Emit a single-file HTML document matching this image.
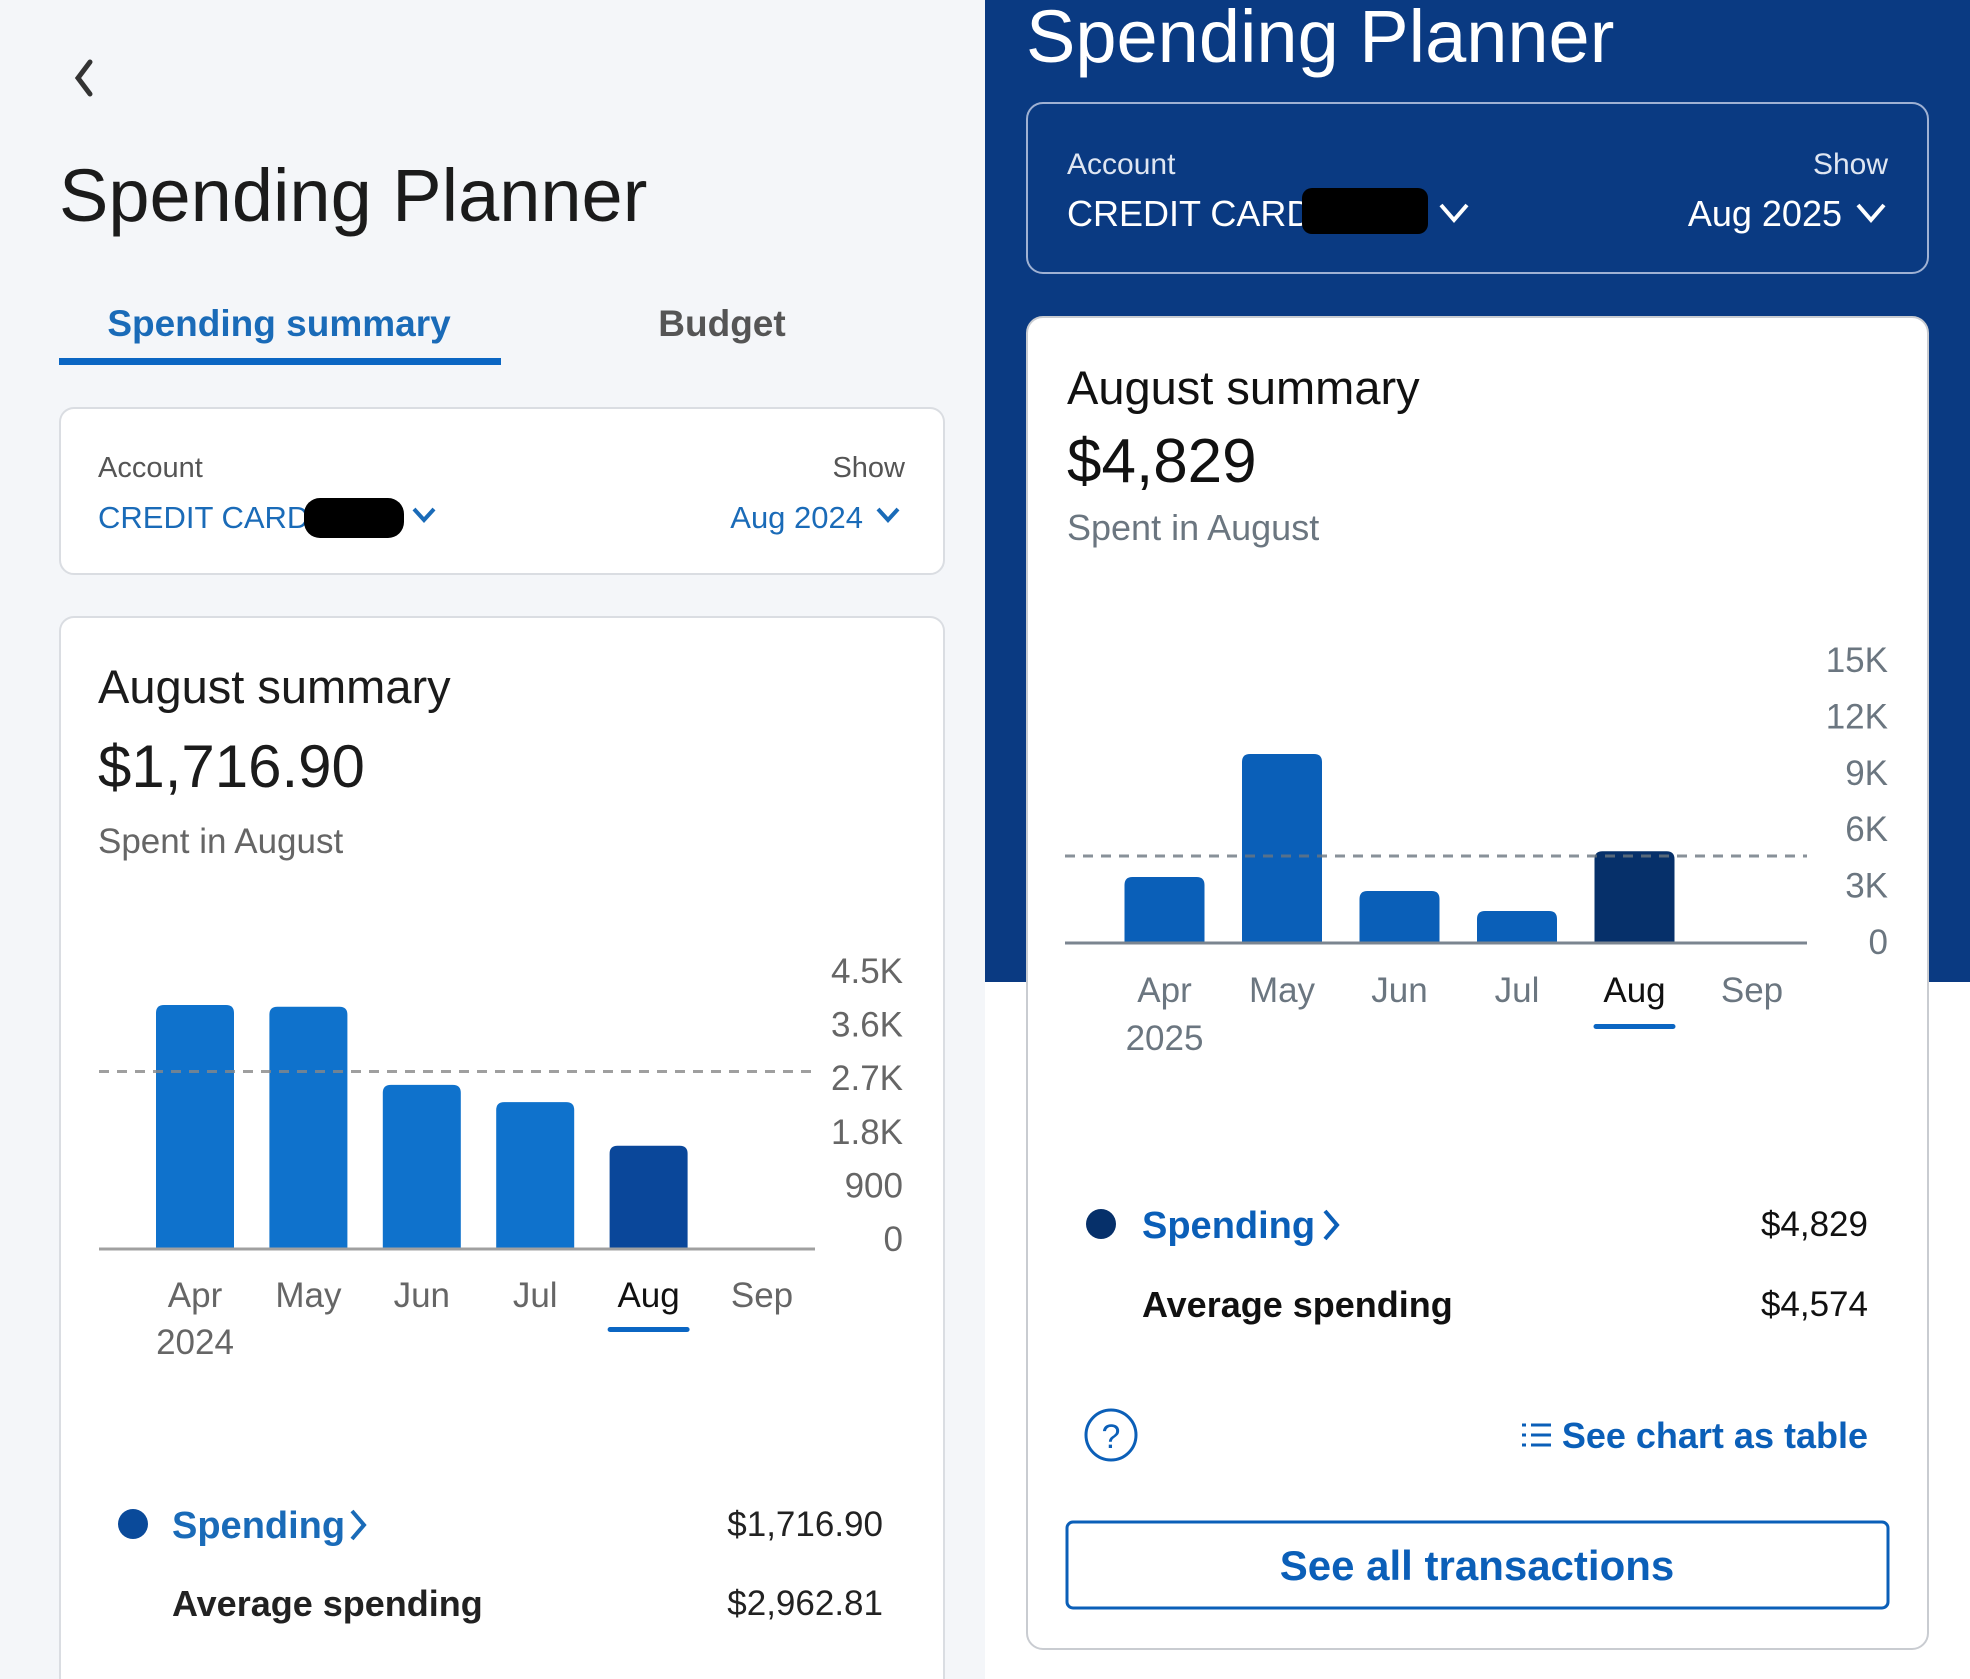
<!DOCTYPE html>
<html><head><meta charset="utf-8">
<style>
html,body{margin:0;padding:0;width:1970px;height:1679px;overflow:hidden;background:#f4f6f9;}
svg{display:block;font-family:"Liberation Sans",sans-serif;}
</style></head>
<body>
<svg id="page" width="1970" height="1679" viewBox="0 0 1970 1679" xmlns="http://www.w3.org/2000/svg">
<!-- LEFT PANEL -->
<rect x="0" y="0" width="985" height="1679" fill="#f4f6f9"/>
<path d="M90 62 L78 78 L90 94" fill="none" stroke="#333" stroke-width="5" stroke-linecap="round"/>
<text x="59" y="221" font-size="74" fill="#1b1b1b">Spending Planner</text>
<text x="279" y="336" font-size="37" fill="#1a6bb8" text-anchor="middle" font-weight="bold">Spending summary</text>
<rect x="59" y="358" width="442" height="7" fill="#0b66c3"/>
<text x="722" y="336" font-size="37" fill="#555" text-anchor="middle" font-weight="bold">Budget</text>

<rect x="60" y="408" width="884" height="166" rx="14" fill="#fff" stroke="#dadde2" stroke-width="2"/>
<text x="98" y="477" font-size="29" fill="#555">Account</text>
<text x="98" y="528" font-size="31" fill="#1a6bb8">CREDIT CARD (</text>
<rect x="304" y="498" width="100" height="40" rx="16" fill="#000"/>
<path d="M414 509 L424 520 L434 509" fill="none" stroke="#1a6bb8" stroke-width="4"/>
<text x="905" y="477" font-size="29" fill="#555" text-anchor="end">Show</text>
<text x="863" y="528" font-size="31" fill="#1a6bb8" text-anchor="end">Aug 2024</text>
<path d="M878 509 L888 520 L898 509" fill="none" stroke="#1a6bb8" stroke-width="4"/>

<rect x="60" y="617" width="884" height="1100" rx="14" fill="#fff" stroke="#dadde2" stroke-width="2"/>
<text x="98" y="703" font-size="47" fill="#1b1b1b">August summary</text>
<text x="98" y="787" font-size="60" fill="#1b1b1b">$1,716.90</text>
<text x="98" y="853" font-size="35" fill="#666">Spent in August</text>
<g id="leftChart"></g>
<circle cx="133" cy="1524" r="15" fill="#0a4a9a"/>
<text x="172" y="1538" font-size="38" fill="#1a6bb8" font-weight="bold">Spending</text>
<path d="M352 1511 L364 1525 L352 1539" fill="none" stroke="#1a6bb8" stroke-width="4"/>
<text x="883" y="1536" font-size="35" fill="#222" text-anchor="end">$1,716.90</text>
<text x="172" y="1616" font-size="36" fill="#222" font-weight="bold">Average spending</text>
<text x="883" y="1615" font-size="35" fill="#222" text-anchor="end">$2,962.81</text>

<!-- RIGHT PANEL -->
<rect x="985" y="0" width="985" height="1679" fill="#ffffff"/>
<rect x="985" y="0" width="985" height="982" fill="#0a3a82"/>
<text x="1026" y="62" font-size="74" fill="#fff">Spending Planner</text>
<rect x="1027" y="103" width="901" height="170" rx="16" fill="none" stroke="#9fb1d3" stroke-width="2"/>
<text x="1067" y="174" font-size="30" fill="#dfe6f2">Account</text>
<text x="1067" y="226" font-size="36" fill="#fff">CREDIT CARD (</text>
<rect x="1302" y="188" width="126" height="46" rx="10" fill="#000"/>
<path d="M1441 205 L1454 220 L1467 205" fill="none" stroke="#fff" stroke-width="4"/>
<text x="1888" y="174" font-size="30" fill="#dfe6f2" text-anchor="end">Show</text>
<text x="1842" y="226" font-size="36" fill="#fff" text-anchor="end">Aug 2025</text>
<path d="M1858 205 L1871 220 L1884 205" fill="none" stroke="#fff" stroke-width="4"/>

<rect x="1027" y="317" width="901" height="1332" rx="16" fill="#fff" stroke="#c9ccd1" stroke-width="2"/>
<text x="1067" y="404" font-size="47" fill="#111">August summary</text>
<text x="1067" y="482" font-size="62" fill="#111">$4,829</text>
<text x="1067" y="540" font-size="36" fill="#6b7680">Spent in August</text>
<g id="rightChart"></g>
<circle cx="1101" cy="1224" r="15" fill="#06306a"/>
<text x="1142" y="1238" font-size="38" fill="#0b5fb8" font-weight="bold">Spending</text>
<path d="M1325 1211 L1337 1225 L1325 1239" fill="none" stroke="#0b5fb8" stroke-width="4"/>
<text x="1868" y="1236" font-size="35" fill="#111" text-anchor="end">$4,829</text>
<text x="1142" y="1317" font-size="36" fill="#111" font-weight="bold">Average spending</text>
<text x="1868" y="1316" font-size="35" fill="#111" text-anchor="end">$4,574</text>
<g>
<circle cx="1111" cy="1435" r="25" fill="none" stroke="#0b5fb8" stroke-width="3"/>
<text x="1111" y="1448" font-size="34" fill="#0b5fb8" text-anchor="middle">?</text>
</g>
<g>
<g stroke="#0b5fb8" stroke-width="3">
<line x1="1522" y1="1425" x2="1526" y2="1425"/><line x1="1531" y1="1425" x2="1551" y2="1425"/>
<line x1="1522" y1="1435" x2="1526" y2="1435"/><line x1="1531" y1="1435" x2="1551" y2="1435"/>
<line x1="1522" y1="1445" x2="1526" y2="1445"/><line x1="1531" y1="1445" x2="1551" y2="1445"/>
</g>
<text x="1868" y="1448" font-size="36" fill="#0b5fb8" text-anchor="end" font-weight="bold">See chart as table</text>
</g>
<rect x="1067" y="1522" width="821" height="86" rx="6" fill="#fff" stroke="#0b5fb8" stroke-width="3"/>
<text x="1477" y="1580" font-size="42" fill="#0b5fb8" text-anchor="middle" font-weight="bold">See all transactions</text>
</svg>
<script>
const months = ["Apr","May","Jun","Jul","Aug","Sep"];
const leftValues = [4080, 4050, 2740, 2450, 1716.90, 0];
const leftAverage = [2962.81];
const leftTicks = [0, 900, 1800, 2700, 3600, 4500];
const leftTickLabels = ["0","900","1.8K","2.7K","3.6K","4.5K"];
const rightValues = [3460, 10000, 2710, 1650, 4829, 0];
const rightAverage = [4574];
const rightTicks = [0, 3000, 6000, 9000, 12000, 15000];
const rightTickLabels = ["0","3K","6K","9K","12K","15K"];
const NS = "http://www.w3.org/2000/svg";
function mk(tag, attrs, parent){const e=document.createElementNS(NS,tag);for(const k in attrs)e.setAttribute(k,attrs[k]);parent.appendChild(e);return e;}
function drawChart(g, cfg, values, avg, ticks, tickLabels, year, prefix){
  const y = v => cfg.base - (v/ticks[ticks.length-1])*(cfg.base-cfg.top);
  const xC = i => cfg.x0 + i*cfg.step;
  ticks.forEach((t,i)=>{
    const tx = mk("text",{x:cfg.tickX,y:y(t)+cfg.tickOff,"font-size":cfg.fs,fill:cfg.tickColor,"text-anchor":"end"},g);
    tx.textContent = tickLabels[i];
    
    
  });
  values.forEach((v,i)=>{
    if(v<=0) return;
    const h = cfg.base - y(v);
    const r = Math.min(8,h/2);
    const x = xC(i)-cfg.bw/2, yt = y(v);
    const p = mk("path",{d:`M${x} ${cfg.base} L${x} ${yt+r} Q${x} ${yt} ${x+r} ${yt} L${x+cfg.bw-r} ${yt} Q${x+cfg.bw} ${yt} ${x+cfg.bw} ${yt+r} L${x+cfg.bw} ${cfg.base} Z`,fill: i===cfg.sel?cfg.selColor:cfg.barColor},g);
    
    
  });
  const l = mk("line",{x1:cfg.ax0,x2:cfg.ax1,y1:y(avg[0]),y2:y(avg[0]),stroke:cfg.dashColor,"stroke-width":3,"stroke-dasharray":"10 8",opacity:0.8},g);
  
  
  const a = mk("line",{x1:cfg.ax0,x2:cfg.ax1,y1:cfg.base+1,y2:cfg.base+1,stroke:cfg.axisColor,"stroke-width":3},g);
  
  
  months.forEach((m,i)=>{
    const t = mk("text",{x:xC(i),y:cfg.mY,"font-size":cfg.fs,fill: i===cfg.sel?"#111":cfg.tickColor,"text-anchor":"middle"},g);
    t.textContent = m;
    
    
  });
  const yr = mk("text",{x:xC(0),y:cfg.mY+cfg.yrGap,"font-size":cfg.fs,fill:cfg.tickColor,"text-anchor":"middle"},g);
  yr.textContent = year;
  
  
  const u = mk("rect",{x:xC(cfg.sel)-41,y:cfg.uY,width:82,height:5,rx:2.5,fill:"#0b66c3"},g);
  
  
}
drawChart(document.getElementById("leftChart"),
  {x0:195,step:113.4,bw:78,base:1248,top:980,ax0:99,ax1:815,tickX:903,tickOff:3,fs:35,mY:1307,yrGap:47,uY:1327,sel:4,
   barColor:"#0f72cc",selColor:"#0a479a",dashColor:"#888",axisColor:"#a0a0a0",tickColor:"#666"},
  leftValues,leftAverage,leftTicks,leftTickLabels,"2024","left");
drawChart(document.getElementById("rightChart"),
  {x0:1164.5,step:117.5,bw:80,base:942,top:660,ax0:1065,ax1:1807,tickX:1888,tickOff:12,fs:35,mY:1002,yrGap:48,uY:1024,sel:4,
   barColor:"#0a5fb8",selColor:"#06306a",dashColor:"#6b7680",axisColor:"#7b8590",tickColor:"#6b7680"},
  rightValues,rightAverage,rightTicks,rightTickLabels,"2025","right");
</script>
</body></html>
